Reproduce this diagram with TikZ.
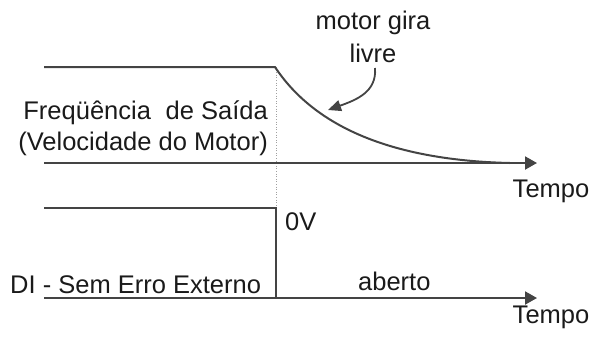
\documentclass[tikz,border=0pt]{standalone}
\usepackage{fontspec}
\setmainfont{Liberation Sans}
\usetikzlibrary{arrows.meta}
\definecolor{linegray}{HTML}{444444}
\definecolor{dotgray}{HTML}{A0A0A0}
\definecolor{txt}{HTML}{1A1A1A}
\tikzset{
  sig/.style={draw=linegray, line width=2pt, line join=miter},
  axisarrow/.style={draw=linegray, line width=2pt, -{Triangle[length=12pt,width=13pt]}},
  guide/.style={draw=dotgray, line width=1pt, dash pattern=on 1pt off 1.6pt},
  lbl/.style={inner sep=0pt, text=txt, font=\fontsize{25.5}{29}\selectfont},
  note/.style={draw=linegray, line width=1.8pt, -{Triangle[length=13pt,width=11pt]}}
}
\begin{document}
\begin{tikzpicture}[x=1pt,y=-1pt]
\useasboundingbox (0,0) rectangle (593,338);
% coordinates
\coordinate (f0) at (44,67);
\coordinate (fk) at (275,67);
\coordinate (fe) at (510,163);
\coordinate (a1s) at (44,163);
\coordinate (a1e) at (537,163);
\coordinate (g0) at (276,67);
\coordinate (g1) at (276,208);
\coordinate (d0) at (44,208);
\coordinate (dk) at (276,208);
\coordinate (dl) at (276,298);
\coordinate (a2s) at (44,298);
\coordinate (a2e) at (537,298);
\coordinate (ns) at (375,68);
\coordinate (nt) at (328,110);
% dotted guide
\draw[guide] (g0) -- (g1);
% frequency signal
\draw[sig] (f0) -- (fk) .. controls (310,120) and (380,160) .. (fe);
\draw[axisarrow] (a1s) -- (a1e);
% DI signal
\draw[sig] (d0) -- (dk) -- (dl);
\draw[axisarrow] (a2s) -- (a2e);
% annotation arrow
\draw[note] (ns) .. controls (377,92) and (356,100) .. (nt);
% labels
\node[lbl, anchor=base east] (freq) at (268,119) {Freqüência\hspace{0.3em} de Saída};
\node[lbl, anchor=base east] (vel) at (268,150) {(Velocidade do Motor)};
\node[lbl, anchor=base west] (di) at (10,293) {DI - Sem Erro Externo};
\node[lbl, anchor=base west] (ov) at (285,230) {0V};
\node[lbl, anchor=base west] (ab) at (358,290) {aberto};
\node[lbl, anchor=base] (t1) at (551,197) {Tempo};
\node[lbl, anchor=base] (t2) at (551,323) {Tempo};
\node[lbl, anchor=base] (mg) at (373,29) {motor gira};
\node[lbl, anchor=base] (lv) at (373,62) {livre};
\end{tikzpicture}
\end{document}
